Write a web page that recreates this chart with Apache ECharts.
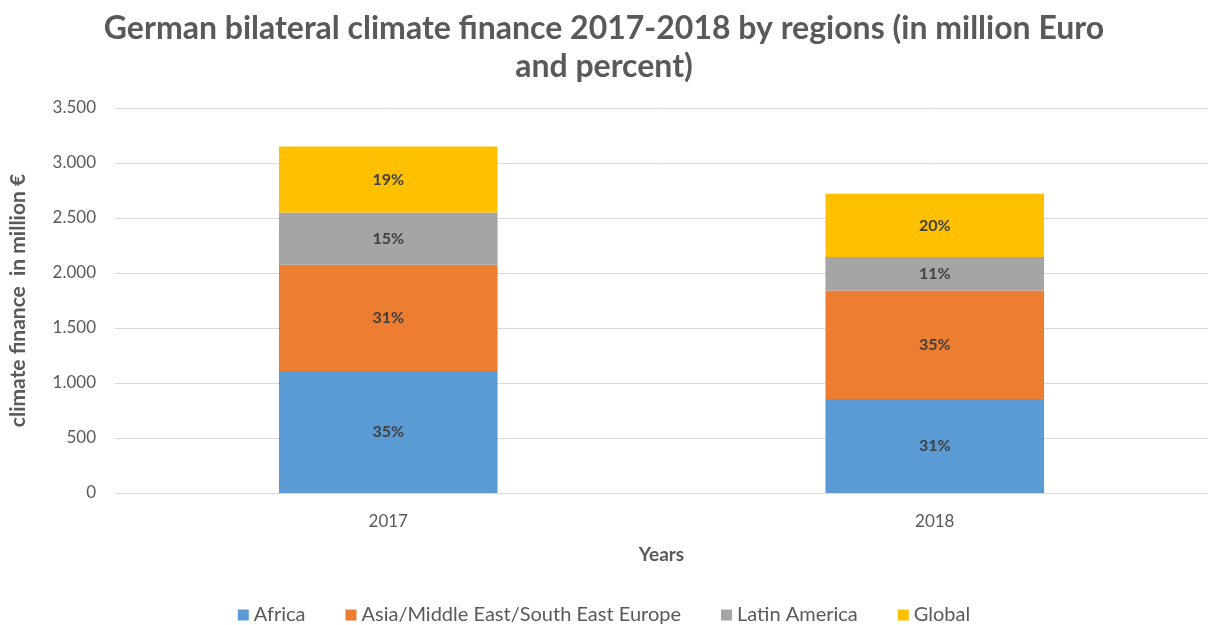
<!DOCTYPE html>
<html>
<head>
<meta charset="utf-8">
<script src="https://cdn.jsdelivr.net/npm/echarts@6/dist/echarts.min.js"></script>
<style>
  html, body { margin: 0; padding: 0; background: #fff; }
  #main { width: 1208px; height: 625px; }
</style>
</head>
<body>
<div id="main"></div>
<script>
// data (million Euro)
var years = ["2017", "2018"];
var africa = [1110, 855];
var asia = [965, 985];
var latinAmerica = [475, 305];
var global = [600, 575];
// percentages as printed on the bars
var africaPct = ["35%", "31%"];
var asiaPct = ["31%", "35%"];
var latinPct = ["15%", "11%"];
var globalPct = ["19%", "20%"];

var font = "Lato";
var myChart = echarts.init(document.getElementById("main"));

function makeSeries(name, values, labels, color) {
  return {
    name: name,
    type: "bar",
    stack: "total",
    barWidth: "40%",
    data: values,
    itemStyle: { color: color },
    label: {
      show: true,
      position: "inside",
      formatter: function (p) { return labels[p.dataIndex]; },
      color: "#404040",
      fontWeight: "bold",
      fontSize: 16,
      fontFamily: font
    }
  };
}

myChart.setOption({
  backgroundColor: "#fff",
  animation: false,
  textStyle: { fontFamily: font },
  title: {
    text: "German bilateral climate finance 2017-2018 by regions (in million Euro\nand percent)",
    left: "center",
    top: 5,
    textStyle: {
      color: "#595959",
      fontSize: 32,
      fontWeight: "bold",
      fontFamily: font,
      lineHeight: 38
    }
  },
  legend: {
    top: 600,
    left: "center",
    itemWidth: 11,
    itemHeight: 11,
    itemGap: 40,
    icon: "rect",
    textStyle: { color: "#595959", fontSize: 20, fontFamily: font }
  },
  grid: { left: 111, right: 0, top: 108, bottom: 132 },
  xAxis: {
    type: "category",
    data: years,
    name: "Years",
    nameLocation: "middle",
    nameGap: 52,
    nameTextStyle: { color: "#595959", fontSize: 19, fontWeight: "bold", fontFamily: font },
    axisLine: { lineStyle: { color: "#d9d9d9" } },
    axisTick: { show: false },
    axisLabel: { color: "#595959", fontSize: 17, margin: 20, fontFamily: font }
  },
  yAxis: {
    type: "value",
    min: 0,
    max: 3500,
    interval: 500,
    name: "climate finance  in million €",
    nameLocation: "middle",
    nameGap: 86,
    nameTextStyle: { color: "#595959", fontSize: 21, fontWeight: "bold", fontFamily: font },
    axisLine: { show: false },
    axisTick: { show: false },
    splitLine: { lineStyle: { color: "#d9d9d9" } },
    axisLabel: {
      color: "#595959",
      fontSize: 17,
      margin: 19,
      fontFamily: font,
      formatter: function (v) { return String(v).replace(/\B(?=(\d{3})+(?!\d))/g, "."); }
    }
  },
  series: [
    makeSeries("Africa", africa, africaPct, "#5B9BD5"),
    makeSeries("Asia/Middle East/South East Europe", asia, asiaPct, "#ED7D31"),
    makeSeries("Latin America", latinAmerica, latinPct, "#A5A5A5"),
    makeSeries("Global", global, globalPct, "#FFC000")
  ]
});
</script>
</body>
</html>
